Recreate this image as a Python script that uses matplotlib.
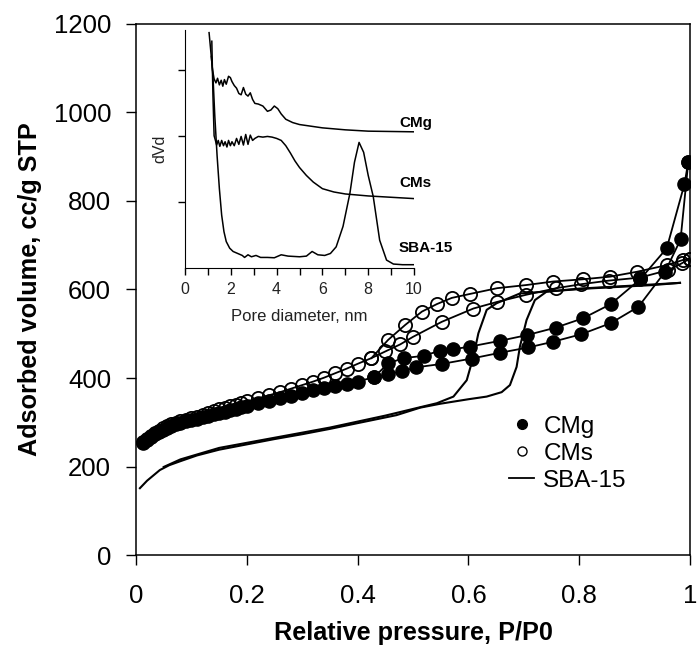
import matplotlib
matplotlib.use("Agg")
import matplotlib.pyplot as plt
from matplotlib.lines import Line2D

plt.rcParams['font.family'] = ['Liberation Sans', 'DejaVu Sans']

# main isotherms: relative pressure P/P0 vs adsorbed volume (cc/g STP)
cmg_ads_p = [0.013, 0.02, 0.027, 0.034, 0.041, 0.048, 0.056, 0.064, 0.072, 0.08,
             0.09, 0.1, 0.11, 0.12, 0.13, 0.14, 0.15, 0.16, 0.17, 0.18, 0.19, 0.2,
             0.22, 0.24, 0.26, 0.28, 0.3, 0.32, 0.34, 0.36, 0.38, 0.4, 0.43, 0.455,
             0.48, 0.505, 0.553, 0.606, 0.657, 0.708, 0.753, 0.804, 0.857, 0.907,
             0.955, 0.983, 0.997]
cmg_ads_v = [252, 260, 267, 273, 278, 283, 287, 291, 295, 298,
             302, 305, 308, 311, 315, 318, 321, 324, 327, 331, 334, 337,
             343, 349, 355, 360, 366, 372, 377, 381, 386, 392, 402, 409,
             415, 424, 432, 444, 457, 469, 482, 499, 524, 561,
             640, 713, 889]
cmg_des_p = [0.997, 0.99, 0.958, 0.91, 0.857, 0.807, 0.758, 0.706, 0.657, 0.603,
             0.573, 0.549, 0.519, 0.483, 0.455, 0.43]
cmg_des_v = [889, 838, 693, 623, 567, 535, 514, 497, 484, 471,
             465, 462, 450, 445, 433, 402]

cms_ads_p = [0.013, 0.02, 0.027, 0.034, 0.041, 0.048, 0.056, 0.064, 0.072, 0.08,
             0.09, 0.1, 0.11, 0.12, 0.13, 0.14, 0.15, 0.16, 0.17, 0.18, 0.19, 0.2,
             0.22, 0.24, 0.26, 0.28, 0.3, 0.32, 0.34, 0.36, 0.38, 0.4, 0.425, 0.45,
             0.477, 0.5, 0.552, 0.609, 0.652, 0.704, 0.759, 0.804, 0.853, 0.91,
             0.961, 0.985, 1.0]
cms_ads_v = [255, 263, 270, 276, 281, 286, 291, 295, 299, 302,
             306, 310, 313, 317, 321, 325, 329, 332, 336, 340, 343, 347,
             354, 361, 368, 376, 384, 392, 401, 411, 421, 432, 445, 460,
             476, 493, 527, 557, 572, 588, 603, 612, 620, 627,
             644, 659, 670]
cms_des_p = [1.0, 0.988, 0.958, 0.904, 0.856, 0.806, 0.753, 0.704, 0.652, 0.603,
             0.57, 0.543, 0.516, 0.486, 0.455, 0.425]
cms_des_v = [670, 667, 655, 640, 629, 623, 618, 610, 603, 590,
             581, 567, 550, 520, 486, 445]

sba_ads_p = [0.007, 0.02, 0.043, 0.06, 0.08, 0.11, 0.15, 0.2, 0.25, 0.3, 0.35,
             0.4, 0.47, 0.513, 0.55, 0.6, 0.633, 0.66, 0.675, 0.687, 0.693,
             0.705, 0.72, 0.741, 0.8, 0.9, 0.982]
sba_ads_v = [151, 168, 192, 203, 212, 225, 238, 250, 262, 273, 285,
             298, 316, 333, 342, 352, 358, 368, 384, 425, 471,
             531, 576, 595, 602, 609, 615]
sba_des_p = [0.982, 0.933, 0.813, 0.693, 0.651, 0.633, 0.618, 0.609, 0.597,
             0.573, 0.543, 0.513, 0.45, 0.35, 0.25, 0.15, 0.08, 0.05]
sba_des_v = [615, 610, 602, 591, 569, 554, 501, 448, 395,
             358, 343, 334, 315, 288, 265, 242, 216, 199]

# inset: pore size distribution (arbitrary units)
psd_cmg_d = [1.05, 1.12, 1.2, 1.27, 1.35, 1.42, 1.5, 1.58, 1.65, 1.72, 1.8, 1.9,
             1.98, 2.05, 2.15, 2.25, 2.35, 2.45, 2.55, 2.65, 2.75, 2.85, 2.95,
             3.05, 3.2, 3.4, 3.6, 3.75, 3.9, 4.05, 4.2, 4.4, 4.7, 5.0, 6.0, 7.0,
             8.0, 9.0, 10.0]
psd_cmg_v = [3.56, 3.3, 3.0, 2.86, 2.8, 2.87, 2.77, 2.84, 2.75, 2.85, 2.78, 2.9,
             2.88, 2.82, 2.76, 2.72, 2.64, 2.62, 2.73, 2.63, 2.6, 2.65, 2.55,
             2.49, 2.48, 2.45, 2.37, 2.39, 2.45, 2.41, 2.33, 2.25, 2.2, 2.17,
             2.12, 2.09, 2.07, 2.065, 2.06]
psd_cms_d = [1.17, 1.22, 1.27, 1.32, 1.38, 1.45, 1.52, 1.6, 1.68, 1.75, 1.83,
             1.9, 1.98, 2.05, 2.15, 2.25, 2.35, 2.45, 2.55, 2.65, 2.75, 2.85,
             2.95, 3.05, 3.2, 3.4, 3.6, 3.8, 4.0, 4.2, 4.4, 4.6, 4.8, 5.0, 5.3,
             5.6, 6.0, 6.5, 7.0, 8.0, 9.0, 10.0]
psd_cms_v = [3.43, 2.6, 2.0, 1.94, 1.86, 1.93, 1.84, 1.93, 1.85, 1.91, 1.83,
             1.93, 1.85, 1.91, 1.85, 1.96, 1.87, 1.99, 1.86, 2.02, 1.87, 2.01,
             1.93, 1.96, 1.99, 1.98, 1.99, 1.98, 1.96, 1.93, 1.85, 1.74, 1.62,
             1.52, 1.4, 1.3, 1.2, 1.15, 1.12, 1.09, 1.07, 1.05]
psd_sba_d = [1.15, 1.22, 1.3, 1.4, 1.5, 1.6, 1.7, 1.8, 1.95, 2.1, 2.3, 2.5, 2.6,
             2.75, 2.9, 3.1, 3.3, 3.6, 3.9, 4.2, 4.5, 5.0, 5.3, 5.55, 5.8, 6.1,
             6.35, 6.6, 6.9, 7.2, 7.4, 7.6, 7.8, 8.0, 8.22, 8.5, 8.8, 9.1, 9.5,
             10.0]
psd_sba_v = [3.2, 2.9, 2.3, 1.7, 1.2, 0.8, 0.55, 0.4, 0.3, 0.25, 0.22, 0.19, 0.16,
             0.2, 0.17, 0.19, 0.16, 0.16, 0.155, 0.2, 0.18, 0.17, 0.18, 0.25,
             0.2, 0.19, 0.22, 0.32, 0.63, 1.13, 1.6, 1.9, 1.75, 1.4, 1.08, 0.42,
             0.12, 0.06, 0.05, 0.05]

fig = plt.figure(figsize=(6.99, 6.48), dpi=100)
ax = fig.add_axes([0.1946, 0.1435, 0.7925, 0.8195])

ms = 9.5
ax.plot(cmg_ads_p, cmg_ads_v, '-o', color='k', lw=1.3, ms=ms, mfc='k', mec='k')
ax.plot(cmg_des_p, cmg_des_v, '-o', color='k', lw=1.3, ms=ms, mfc='k', mec='k')
ax.plot(cms_ads_p, cms_ads_v, '-o', color='k', lw=1.3, ms=ms, mfc='none', mec='k', mew=1.3)
ax.plot(cms_des_p, cms_des_v, '-o', color='k', lw=1.3, ms=ms, mfc='none', mec='k', mew=1.3)
ax.plot(sba_ads_p, sba_ads_v, '-', color='k', lw=1.5)
ax.plot(sba_des_p, sba_des_v, '-', color='k', lw=1.5)

ax.set_xlim(0, 1)
ax.set_ylim(0, 1200)
ax.set_xticks([0, 0.2, 0.4, 0.6, 0.8, 1])
ax.set_xticklabels(['0', '0.2', '0.4', '0.6', '0.8', '1'])
ax.set_yticks(range(0, 1201, 200))
ax.tick_params(direction='out', length=7, width=1, labelsize=18.5)
ax.tick_params(axis='x', pad=14)
ax.tick_params(axis='y', pad=11)
for s in ax.spines.values():
    s.set_linewidth(1.1)
ax.set_xlabel('Relative pressure, P/P0', fontsize=18.2, fontweight='bold', labelpad=9)
ax.set_ylabel('Adsorbed volume, cc/g STP', fontsize=18.2, fontweight='bold', labelpad=8)

handles = [Line2D([], [], ls='none', marker='o', ms=7, mfc='k', mec='k'),
           Line2D([], [], ls='none', marker='o', ms=6.5, mfc='none', mec='k', mew=1),
           Line2D([], [], ls='-', color='k', lw=1.3)]
ax.legend(handles, ['CMg', 'CMs', 'SBA-15'], loc='upper left',
          bbox_to_anchor=(0.652, 0.285), frameon=False, fontsize=17.5,
          handlelength=1.0, handletextpad=0.4, labelspacing=0.2, borderpad=0)

# inset
ax_in = fig.add_axes([0.2647, 0.5864, 0.3276, 0.3673])
ax_in.patch.set_alpha(0)
ax_in.plot(psd_cmg_d, psd_cmg_v, color='k', lw=1.1)
ax_in.plot(psd_cms_d, psd_cms_v, color='k', lw=1.1)
ax_in.plot(psd_sba_d, psd_sba_v, color='k', lw=1.1)
ax_in.set_xlim(0, 10)
ax_in.set_ylim(0, 3.6)
ax_in.set_xticks(range(0, 11, 2))
ax_in.set_xticks(range(1, 11, 2), minor=True)
ax_in.set_yticks([1, 2, 3])
ax_in.set_yticklabels([])
ax_in.spines['top'].set_visible(False)
ax_in.spines['right'].set_visible(False)
ax_in.tick_params(which='both', direction='out', length=5, width=1,
                  labelsize=11.5, labelcolor='#222222', pad=5)
ax_in.set_xlabel('Pore diameter, nm', fontsize=12, color='#222222', labelpad=9)
ax_in.set_ylabel('dVd', fontsize=11.5, color='#222222', labelpad=3)
ax_in.text(9.34, 2.2, 'CMg', fontsize=11, fontweight='bold', va='center', ha='left')
ax_in.text(9.34, 1.29, 'CMs', fontsize=11, fontweight='bold', va='center', ha='left')
ax_in.text(9.34, 0.30, 'SBA-15', fontsize=11, fontweight='bold', va='center', ha='left')

fig.savefig('out.png', dpi=100)
